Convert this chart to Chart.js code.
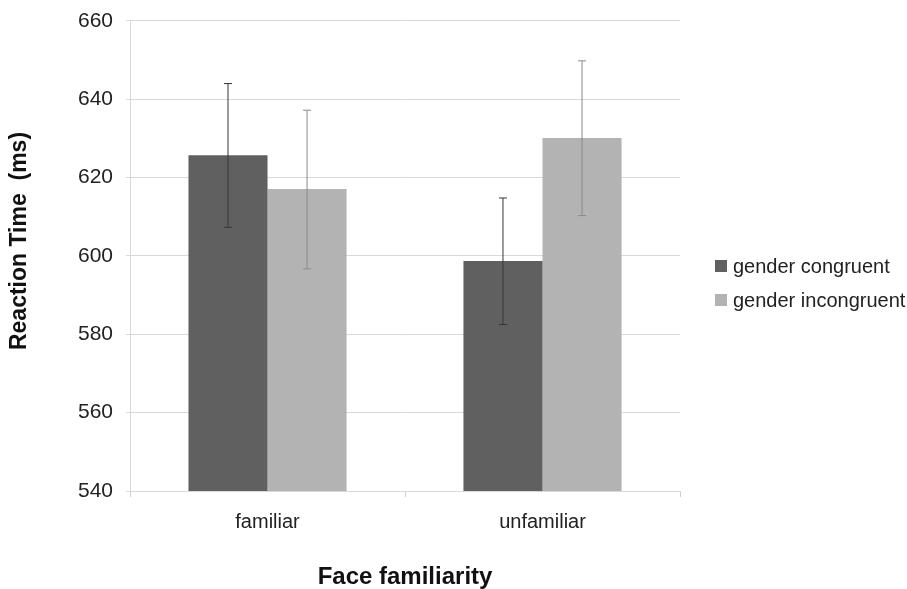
<!DOCTYPE html>
<html>
<head>
<meta charset="utf-8">
<script src="https://cdn.jsdelivr.net/npm/chart.js@4.4.0/dist/chart.umd.min.js"></script>
<style>
  html, body { margin: 0; padding: 0; background: #fff; }
  #wrap { width: 907px; height: 589px; }
</style>
</head>
<body>
<div id="wrap"><canvas id="rt-chart"></canvas></div>
<script>
// Reaction time by face familiarity
var categories = ["familiar", "unfamiliar"];
var seriesNames = ["gender congruent", "gender incongruent"];
var congruent = [625.7, 598.7];
var incongruent = [617.1, 630.1];
// error bar ends (low / high)
var congruentLow = [607.3, 582.5];
var congruentHigh = [644.0, 614.8];
var incongruentLow = [596.7, 610.3];
var incongruentHigh = [637.2, 649.8];
var yTicks = [540, 560, 580, 600, 620, 640, 660];

var FONT = "'Liberation Sans', Arial, sans-serif";
Chart.defaults.font.family = FONT;
Chart.defaults.color = "#222";

// error bars on top of the bars
var errorBars = {
  id: 'errorBars',
  afterDatasetsDraw: function (chart) {
    var ctx = chart.ctx;
    var y = chart.scales.y;
    var ranges = [[congruentLow, congruentHigh, "#363636"], [incongruentLow, incongruentHigh, "#8a8a8a"]];
    ranges.forEach(function (r, di) {
      var meta = chart.getDatasetMeta(di);
      meta.data.forEach(function (bar, i) {
        var yl = y.getPixelForValue(r[0][i]);
        var yh = y.getPixelForValue(r[1][i]);
        ctx.save();
        ctx.strokeStyle = r[2];
        ctx.lineWidth = 1;
        ctx.beginPath();
        ctx.moveTo(bar.x, yl); ctx.lineTo(bar.x, yh);
        ctx.moveTo(bar.x - 4, yl); ctx.lineTo(bar.x + 4, yl);
        ctx.moveTo(bar.x - 4, yh); ctx.lineTo(bar.x + 4, yh);
        ctx.stroke();
        ctx.restore();
      });
    });
  }
};

// y title + legend on the right, drawn by hand
var sideText = {
  id: 'sideText',
  afterDraw: function (chart) {
    var ctx = chart.ctx;
    var area = chart.chartArea;
    ctx.save();
    // y axis title
    ctx.translate(20, 241);
    ctx.rotate(-Math.PI / 2);
    ctx.font = "bold 23px " + FONT;
    ctx.fillStyle = "#111";
    ctx.textAlign = "center";
    ctx.textBaseline = "middle";
    ctx.fillText("Reaction Time  (ms)", 0, 0);
    ctx.restore();

    // legend
    ctx.save();
    ctx.font = "20px " + FONT;
    ctx.textBaseline = "middle";
    ctx.textAlign = "left";
    chart.data.datasets.forEach(function (ds, i) {
      var cy = 266 + i * 34;
      var bx = area.right + 35;
      ctx.fillStyle = ds.backgroundColor;
      ctx.fillRect(bx, cy - 6, 12, 12);
      ctx.fillStyle = "#222";
      ctx.fillText(ds.label, bx + 18, cy + 1);
    });
    ctx.restore();
  }
};

var ctx = document.getElementById("rt-chart").getContext('2d');
var chart = new Chart(ctx, {
  type: 'bar',
  data: {
    labels: categories,
    datasets: [
      {
        label: seriesNames[0],
        data: congruent,
        backgroundColor: "#606060",
        categoryPercentage: 0.575,
        barPercentage: 1.0
      },
      {
        label: seriesNames[1],
        data: incongruent,
        backgroundColor: "#b3b3b3",
        categoryPercentage: 0.575,
        barPercentage: 1.0
      }
    ]
  },
  options: {
    responsive: true,
    maintainAspectRatio: false,
    animation: false,
    layout: { padding: { top: 0, left: 65, right: 227, bottom: 0 } },
    plugins: {
      legend: { display: false },
      tooltip: { enabled: false }
    },
    scales: {
      x: {
        grid: {
          display: true,
          drawOnChartArea: false,
          color: "#d0d0d0",
          tickLength: 6
        },
        border: { color: "#d9d9d9" },
        ticks: { font: { size: 20 }, color: "#222", padding: 13 },
        title: {
          display: true,
          text: "Face familiarity",
          font: { size: 24, weight: 'bold', lineHeight: 1 },
          color: "#111",
          padding: { top: 18, bottom: 0 }
        }
      },
      y: {
        min: 540,
        max: 660,
        afterBuildTicks: function (axis) {
          axis.ticks = yTicks.map(function (v) { return { value: v }; });
        },
        grid: { color: "#d9d9d9", tickLength: 4 },
        border: { color: "#d9d9d9" },
        ticks: { font: { size: 21, lineHeight: 0.75 }, color: "#222", padding: 13 }
      }
    }
  },
  plugins: [errorBars, sideText]
});
</script>
</body>
</html>
